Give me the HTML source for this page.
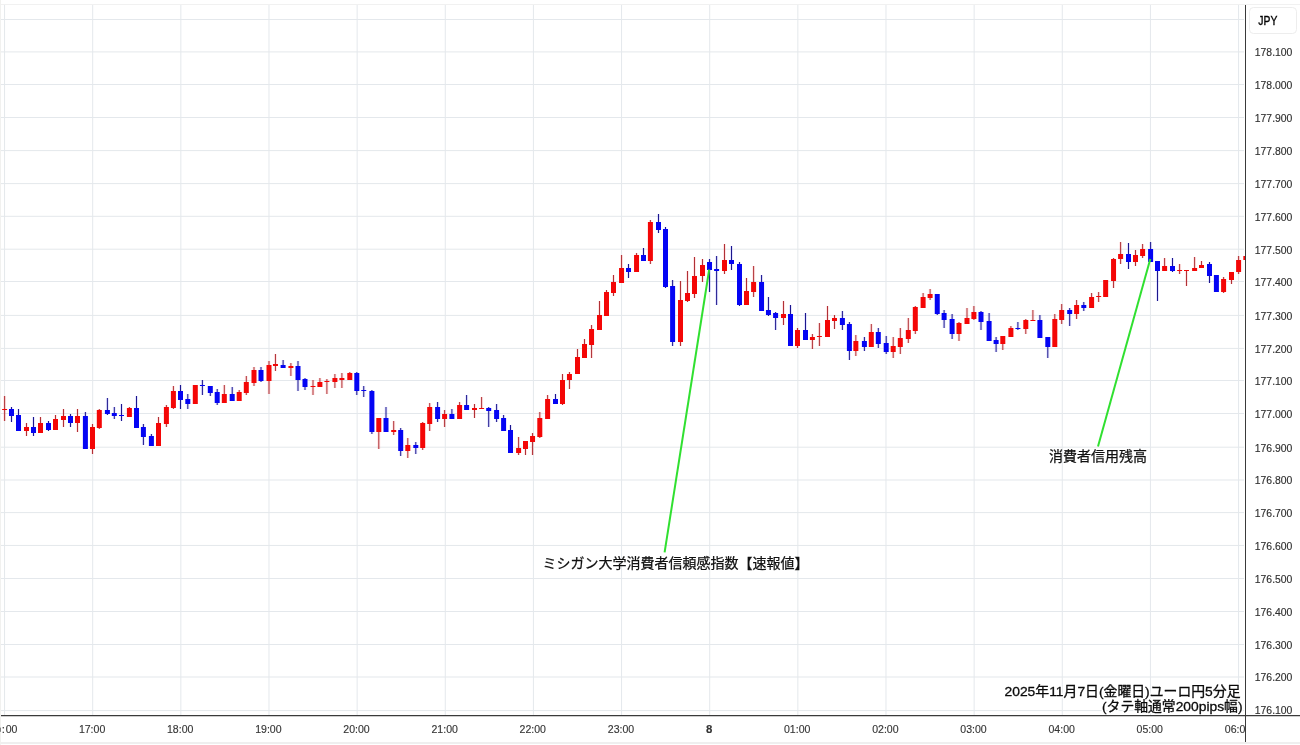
<!DOCTYPE html>
<html><head><meta charset="utf-8"><title>chart</title>
<style>
html,body{margin:0;padding:0;background:#fff;}
body{width:1300px;height:745px;overflow:hidden;position:relative;font-family:"Liberation Sans",sans-serif;}
svg{position:absolute;left:0;top:0;display:block;will-change:transform}
text{font-family:"Liberation Sans",sans-serif;}
</style></head><body>
<svg width="1300" height="745" viewBox="0 0 1300 745">
<rect x="0" y="0" width="1300" height="745" fill="#ffffff"/>
<rect x="0" y="4" width="1300" height="1" fill="#f1f1f1"/>
<rect x="0" y="742" width="1300" height="2" fill="#efefef"/>
<rect x="0" y="0" width="1" height="745" fill="#f1f1ef"/>
<g fill="#e4e8ec"><rect x="1" y="19.00" width="1243" height="1"/><rect x="1" y="51.40" width="1243" height="1"/><rect x="1" y="84.00" width="1243" height="1"/><rect x="1" y="117.00" width="1243" height="1"/><rect x="1" y="150.10" width="1243" height="1"/><rect x="1" y="183.10" width="1243" height="1"/><rect x="1" y="215.80" width="1243" height="1"/><rect x="1" y="248.70" width="1243" height="1"/><rect x="1" y="281.00" width="1243" height="1"/><rect x="1" y="314.90" width="1243" height="1"/><rect x="1" y="347.90" width="1243" height="1"/><rect x="1" y="380.00" width="1243" height="1"/><rect x="1" y="413.00" width="1243" height="1"/><rect x="1" y="446.70" width="1243" height="1"/><rect x="1" y="479.50" width="1243" height="1"/><rect x="1" y="512.10" width="1243" height="1"/><rect x="1" y="544.95" width="1243" height="1"/><rect x="1" y="578.00" width="1243" height="1"/><rect x="1" y="611.00" width="1243" height="1"/><rect x="1" y="644.00" width="1243" height="1"/><rect x="1" y="676.50" width="1243" height="1"/><rect x="1" y="710.10" width="1243" height="1"/><rect x="4.05" y="5" width="1" height="710"/><rect x="92.19" y="5" width="1" height="710"/><rect x="180.34" y="5" width="1" height="710"/><rect x="268.48" y="5" width="1" height="710"/><rect x="356.63" y="5" width="1" height="710"/><rect x="444.77" y="5" width="1" height="710"/><rect x="532.91" y="5" width="1" height="710"/><rect x="621.06" y="5" width="1" height="710"/><rect x="709.20" y="5" width="1" height="710"/><rect x="797.35" y="5" width="1" height="710"/><rect x="885.49" y="5" width="1" height="710"/><rect x="973.63" y="5" width="1" height="710"/><rect x="1061.78" y="5" width="1" height="710"/><rect x="1149.92" y="5" width="1" height="710"/><rect x="1238.07" y="5" width="1" height="710"/></g>
<clipPath id="cc"><rect x="0" y="5" width="1245" height="710"/></clipPath>
<g clip-path="url(#cc)">
<g fill="#ff0000" fill-opacity="0.10"><rect x="3.1" y="396" width="3" height="25"/><rect x="25" y="423" width="3" height="13"/><rect x="39" y="417" width="3" height="16"/><rect x="54" y="415" width="3" height="15"/><rect x="62" y="409" width="3" height="18"/><rect x="76" y="409" width="3" height="23"/><rect x="91" y="424" width="3" height="30"/><rect x="97.8" y="409" width="3" height="20"/><rect x="127.9" y="407" width="3" height="10"/><rect x="157" y="417" width="3" height="29"/><rect x="164.9" y="405" width="3" height="22"/><rect x="171.9" y="386" width="3" height="23"/><rect x="193.8" y="385" width="3" height="19"/><rect x="222.8" y="385" width="3" height="18"/><rect x="237.7" y="390" width="3" height="11"/><rect x="244.8" y="376" width="3" height="19"/><rect x="252.5" y="367" width="3" height="19"/><rect x="267.5" y="361" width="3" height="33"/><rect x="273.95" y="354" width="3" height="17"/><rect x="289.4" y="363" width="3" height="13"/><rect x="311.5" y="380" width="3" height="15"/><rect x="318.4" y="378" width="3" height="9"/><rect x="325.4" y="379" width="3" height="15"/><rect x="333.4" y="374" width="3" height="14"/><rect x="340.4" y="373" width="3" height="15"/><rect x="348.3" y="372" width="3" height="8"/><rect x="377.3" y="418" width="3" height="31"/><rect x="392.2" y="421" width="3" height="14"/><rect x="406.3" y="438" width="3" height="20"/><rect x="421.2" y="422" width="3" height="28"/><rect x="428.2" y="403" width="3" height="28"/><rect x="443.1" y="410" width="3" height="17"/><rect x="458.1" y="402" width="3" height="17"/><rect x="473" y="404" width="3" height="14"/><rect x="480.1" y="397" width="3" height="12"/><rect x="517.1" y="437" width="3" height="18"/><rect x="524" y="441" width="3" height="14"/><rect x="531.05" y="433" width="3" height="22"/><rect x="538.3" y="412" width="3" height="26"/><rect x="546.1" y="395" width="3" height="24"/><rect x="561" y="374" width="3" height="31"/><rect x="567.95" y="372" width="3" height="17"/><rect x="576" y="349" width="3" height="25"/><rect x="583" y="339" width="3" height="19"/><rect x="590.05" y="325" width="3" height="33"/><rect x="598" y="301" width="3" height="29"/><rect x="605" y="290" width="3" height="26"/><rect x="612" y="275" width="3" height="21"/><rect x="620.05" y="255" width="3" height="28"/><rect x="635.05" y="253" width="3" height="19"/><rect x="648.9" y="220" width="3" height="44"/><rect x="679" y="281" width="3" height="65"/><rect x="686" y="271" width="3" height="31"/><rect x="693" y="257" width="3" height="41"/><rect x="701" y="259" width="3" height="23"/><rect x="723" y="244" width="3" height="30"/><rect x="745" y="278" width="3" height="27"/><rect x="752.1" y="266" width="3" height="31"/><rect x="782" y="301" width="3" height="24"/><rect x="796" y="328" width="3" height="20"/><rect x="810.9" y="334" width="3" height="15"/><rect x="817.9" y="323" width="3" height="23"/><rect x="826" y="306" width="3" height="31"/><rect x="833" y="315" width="3" height="14"/><rect x="854.35" y="335" width="3" height="21"/><rect x="869.8" y="324" width="3" height="23"/><rect x="891.7" y="337" width="3" height="21"/><rect x="898.8" y="328" width="3" height="26"/><rect x="906.8" y="318" width="3" height="25"/><rect x="913.8" y="306" width="3" height="28"/><rect x="921.6" y="293" width="3" height="15"/><rect x="928.6" y="289" width="3" height="11"/><rect x="957.5" y="322" width="3" height="19"/><rect x="965.5" y="308" width="3" height="16"/><rect x="972.4" y="306" width="3" height="14"/><rect x="1001.3" y="336" width="3" height="14"/><rect x="1009.4" y="326" width="3" height="11"/><rect x="1024.3" y="319" width="3" height="15"/><rect x="1031.4" y="310" width="3" height="11"/><rect x="1053.3" y="314" width="3" height="33"/><rect x="1060.2" y="304" width="3" height="20"/><rect x="1075.1" y="300" width="3" height="19"/><rect x="1090.1" y="293" width="3" height="15"/><rect x="1097.15" y="292" width="3" height="10"/><rect x="1104.15" y="280" width="3" height="17"/><rect x="1112.05" y="258" width="3" height="30"/><rect x="1119.1" y="242" width="3" height="22"/><rect x="1134" y="250" width="3" height="16"/><rect x="1141.1" y="244" width="3" height="14"/><rect x="1163.1" y="258" width="3" height="13"/><rect x="1178.1" y="264" width="3" height="10"/><rect x="1185" y="270" width="3" height="16"/><rect x="1193.1" y="257" width="3" height="14"/><rect x="1200" y="261" width="3" height="7"/><rect x="1222.1" y="277" width="3" height="16"/><rect x="1230" y="272" width="3" height="12"/><rect x="1237.1" y="256" width="3" height="18"/><rect x="1244.33" y="256" width="3" height="4"/></g>
<g fill="#0000ff" fill-opacity="0.10"><rect x="10" y="407" width="3" height="15"/><rect x="17" y="409" width="3" height="22"/><rect x="32" y="417" width="3" height="19"/><rect x="47" y="421" width="3" height="10"/><rect x="69" y="414" width="3" height="13"/><rect x="83.9" y="412" width="3" height="37"/><rect x="105.9" y="398" width="3" height="17"/><rect x="112.8" y="407" width="3" height="12"/><rect x="120" y="404" width="3" height="17"/><rect x="135" y="396" width="3" height="32"/><rect x="141.9" y="424" width="3" height="21"/><rect x="149.9" y="434" width="3" height="12"/><rect x="179" y="385" width="3" height="24"/><rect x="186.3" y="394" width="3" height="15"/><rect x="200.9" y="380" width="3" height="15"/><rect x="208.8" y="386" width="3" height="10"/><rect x="215.7" y="389" width="3" height="16"/><rect x="230.7" y="387" width="3" height="14"/><rect x="259.5" y="367" width="3" height="15"/><rect x="281.6" y="360" width="3" height="8"/><rect x="296.5" y="361" width="3" height="30"/><rect x="303.5" y="378" width="3" height="12"/><rect x="355.3" y="372" width="3" height="23"/><rect x="362.25" y="386" width="3" height="11"/><rect x="370.4" y="390" width="3" height="44"/><rect x="384.5" y="407" width="3" height="25"/><rect x="399.2" y="428" width="3" height="28"/><rect x="414.3" y="442" width="3" height="12"/><rect x="436.1" y="402" width="3" height="20"/><rect x="450.4" y="409" width="3" height="10"/><rect x="465.1" y="395" width="3" height="15"/><rect x="487.2" y="407" width="3" height="20"/><rect x="495.1" y="404" width="3" height="18"/><rect x="502.1" y="415" width="3" height="16"/><rect x="509" y="425" width="3" height="28"/><rect x="554" y="394" width="3" height="10"/><rect x="627" y="264" width="3" height="14"/><rect x="642" y="248" width="3" height="13"/><rect x="657" y="214" width="3" height="19"/><rect x="664" y="227" width="3" height="61"/><rect x="671.1" y="280" width="3" height="66"/><rect x="708.03" y="259" width="3" height="33"/><rect x="715.1" y="256" width="3" height="49"/><rect x="730" y="246" width="3" height="24"/><rect x="738" y="262" width="3" height="44"/><rect x="760.05" y="275" width="3" height="36"/><rect x="766.95" y="297" width="3" height="19"/><rect x="774.1" y="312" width="3" height="18"/><rect x="789" y="305" width="3" height="41"/><rect x="804" y="313" width="3" height="27"/><rect x="840.9" y="311" width="3" height="19"/><rect x="847.9" y="322" width="3" height="38"/><rect x="862.9" y="337" width="3" height="14"/><rect x="876.8" y="328" width="3" height="20"/><rect x="884.7" y="336" width="3" height="18"/><rect x="935.75" y="294" width="3" height="21"/><rect x="942.6" y="310" width="3" height="18"/><rect x="950.6" y="314" width="3" height="25"/><rect x="979.5" y="311" width="3" height="19"/><rect x="987.6" y="313" width="3" height="28"/><rect x="994.6" y="337" width="3" height="15"/><rect x="1016.4" y="322" width="3" height="8"/><rect x="1038.4" y="315" width="3" height="23"/><rect x="1046.3" y="337" width="3" height="21"/><rect x="1068.2" y="308" width="3" height="18"/><rect x="1082.3" y="302" width="3" height="9"/><rect x="1127" y="243" width="3" height="26"/><rect x="1149.1" y="242" width="3" height="20"/><rect x="1156" y="261" width="3" height="40"/><rect x="1171" y="258" width="3" height="14"/><rect x="1208" y="262" width="3" height="21"/><rect x="1214.9" y="275" width="3" height="17"/></g>
<g fill="#b03036"><rect x="4.1" y="396" width="1" height="25"/><rect x="26" y="423" width="1" height="13"/><rect x="40" y="417" width="1" height="16"/><rect x="55" y="415" width="1" height="15"/><rect x="63" y="409" width="1" height="18"/><rect x="77" y="409" width="1" height="23"/><rect x="92" y="424" width="1" height="30"/><rect x="98.8" y="409" width="1" height="20"/><rect x="128.9" y="407" width="1" height="10"/><rect x="158" y="417" width="1" height="29"/><rect x="165.9" y="405" width="1" height="22"/><rect x="172.9" y="386" width="1" height="23"/><rect x="194.8" y="385" width="1" height="19"/><rect x="223.8" y="385" width="1" height="18"/><rect x="238.7" y="390" width="1" height="11"/><rect x="245.8" y="376" width="1" height="19"/><rect x="253.5" y="367" width="1" height="19"/><rect x="268.5" y="361" width="1" height="33"/><rect x="274.95" y="354" width="1" height="17"/><rect x="290.4" y="363" width="1" height="13"/><rect x="312.5" y="380" width="1" height="15"/><rect x="319.4" y="378" width="1" height="9"/><rect x="326.4" y="379" width="1" height="15"/><rect x="334.4" y="374" width="1" height="14"/><rect x="341.4" y="373" width="1" height="15"/><rect x="349.3" y="372" width="1" height="8"/><rect x="378.3" y="418" width="1" height="31"/><rect x="393.2" y="421" width="1" height="14"/><rect x="407.3" y="438" width="1" height="20"/><rect x="422.2" y="422" width="1" height="28"/><rect x="429.2" y="403" width="1" height="28"/><rect x="444.1" y="410" width="1" height="17"/><rect x="459.1" y="402" width="1" height="17"/><rect x="474" y="404" width="1" height="14"/><rect x="481.1" y="397" width="1" height="12"/><rect x="518.1" y="437" width="1" height="18"/><rect x="525" y="441" width="1" height="14"/><rect x="532.05" y="433" width="1" height="22"/><rect x="539.3" y="412" width="1" height="26"/><rect x="547.1" y="395" width="1" height="24"/><rect x="562" y="374" width="1" height="31"/><rect x="568.95" y="372" width="1" height="17"/><rect x="577" y="349" width="1" height="25"/><rect x="584" y="339" width="1" height="19"/><rect x="591.05" y="325" width="1" height="33"/><rect x="599" y="301" width="1" height="29"/><rect x="606" y="290" width="1" height="26"/><rect x="613" y="275" width="1" height="21"/><rect x="621.05" y="255" width="1" height="28"/><rect x="636.05" y="253" width="1" height="19"/><rect x="649.9" y="220" width="1" height="44"/><rect x="680" y="281" width="1" height="65"/><rect x="687" y="271" width="1" height="31"/><rect x="694" y="257" width="1" height="41"/><rect x="702" y="259" width="1" height="23"/><rect x="724" y="244" width="1" height="30"/><rect x="746" y="278" width="1" height="27"/><rect x="753.1" y="266" width="1" height="31"/><rect x="783" y="301" width="1" height="24"/><rect x="797" y="328" width="1" height="20"/><rect x="811.9" y="334" width="1" height="15"/><rect x="818.9" y="323" width="1" height="23"/><rect x="827" y="306" width="1" height="31"/><rect x="834" y="315" width="1" height="14"/><rect x="855.35" y="335" width="1" height="21"/><rect x="870.8" y="324" width="1" height="23"/><rect x="892.7" y="337" width="1" height="21"/><rect x="899.8" y="328" width="1" height="26"/><rect x="907.8" y="318" width="1" height="25"/><rect x="914.8" y="306" width="1" height="28"/><rect x="922.6" y="293" width="1" height="15"/><rect x="929.6" y="289" width="1" height="11"/><rect x="958.5" y="322" width="1" height="19"/><rect x="966.5" y="308" width="1" height="16"/><rect x="973.4" y="306" width="1" height="14"/><rect x="1002.3" y="336" width="1" height="14"/><rect x="1010.4" y="326" width="1" height="11"/><rect x="1025.3" y="319" width="1" height="15"/><rect x="1032.4" y="310" width="1" height="11"/><rect x="1054.3" y="314" width="1" height="33"/><rect x="1061.2" y="304" width="1" height="20"/><rect x="1076.1" y="300" width="1" height="19"/><rect x="1091.1" y="293" width="1" height="15"/><rect x="1098.15" y="292" width="1" height="10"/><rect x="1105.15" y="280" width="1" height="17"/><rect x="1113.05" y="258" width="1" height="30"/><rect x="1120.1" y="242" width="1" height="22"/><rect x="1135" y="250" width="1" height="16"/><rect x="1142.1" y="244" width="1" height="14"/><rect x="1164.1" y="258" width="1" height="13"/><rect x="1179.1" y="264" width="1" height="10"/><rect x="1186" y="270" width="1" height="16"/><rect x="1194.1" y="257" width="1" height="14"/><rect x="1201" y="261" width="1" height="7"/><rect x="1223.1" y="277" width="1" height="16"/><rect x="1231" y="272" width="1" height="12"/><rect x="1238.1" y="256" width="1" height="18"/><rect x="1245.33" y="256" width="1" height="4"/></g>
<g fill="#1c168c"><rect x="11" y="407" width="1" height="15"/><rect x="18" y="409" width="1" height="22"/><rect x="33" y="417" width="1" height="19"/><rect x="48" y="421" width="1" height="10"/><rect x="70" y="414" width="1" height="13"/><rect x="84.9" y="412" width="1" height="37"/><rect x="106.9" y="398" width="1" height="17"/><rect x="113.8" y="407" width="1" height="12"/><rect x="121" y="404" width="1" height="17"/><rect x="136" y="396" width="1" height="32"/><rect x="142.9" y="424" width="1" height="21"/><rect x="150.9" y="434" width="1" height="12"/><rect x="180" y="385" width="1" height="24"/><rect x="187.3" y="394" width="1" height="15"/><rect x="201.9" y="380" width="1" height="15"/><rect x="209.8" y="386" width="1" height="10"/><rect x="216.7" y="389" width="1" height="16"/><rect x="231.7" y="387" width="1" height="14"/><rect x="260.5" y="367" width="1" height="15"/><rect x="282.6" y="360" width="1" height="8"/><rect x="297.5" y="361" width="1" height="30"/><rect x="304.5" y="378" width="1" height="12"/><rect x="356.3" y="372" width="1" height="23"/><rect x="363.25" y="386" width="1" height="11"/><rect x="371.4" y="390" width="1" height="44"/><rect x="385.5" y="407" width="1" height="25"/><rect x="400.2" y="428" width="1" height="28"/><rect x="415.3" y="442" width="1" height="12"/><rect x="437.1" y="402" width="1" height="20"/><rect x="451.4" y="409" width="1" height="10"/><rect x="466.1" y="395" width="1" height="15"/><rect x="488.2" y="407" width="1" height="20"/><rect x="496.1" y="404" width="1" height="18"/><rect x="503.1" y="415" width="1" height="16"/><rect x="510" y="425" width="1" height="28"/><rect x="555" y="394" width="1" height="10"/><rect x="628" y="264" width="1" height="14"/><rect x="643" y="248" width="1" height="13"/><rect x="658" y="214" width="1" height="19"/><rect x="665" y="227" width="1" height="61"/><rect x="672.1" y="280" width="1" height="66"/><rect x="709.03" y="259" width="1" height="33"/><rect x="716.1" y="256" width="1" height="49"/><rect x="731" y="246" width="1" height="24"/><rect x="739" y="262" width="1" height="44"/><rect x="761.05" y="275" width="1" height="36"/><rect x="767.95" y="297" width="1" height="19"/><rect x="775.1" y="312" width="1" height="18"/><rect x="790" y="305" width="1" height="41"/><rect x="805" y="313" width="1" height="27"/><rect x="841.9" y="311" width="1" height="19"/><rect x="848.9" y="322" width="1" height="38"/><rect x="863.9" y="337" width="1" height="14"/><rect x="877.8" y="328" width="1" height="20"/><rect x="885.7" y="336" width="1" height="18"/><rect x="936.75" y="294" width="1" height="21"/><rect x="943.6" y="310" width="1" height="18"/><rect x="951.6" y="314" width="1" height="25"/><rect x="980.5" y="311" width="1" height="19"/><rect x="988.6" y="313" width="1" height="28"/><rect x="995.6" y="337" width="1" height="15"/><rect x="1017.4" y="322" width="1" height="8"/><rect x="1039.4" y="315" width="1" height="23"/><rect x="1047.3" y="337" width="1" height="21"/><rect x="1069.2" y="308" width="1" height="18"/><rect x="1083.3" y="302" width="1" height="9"/><rect x="1128" y="243" width="1" height="26"/><rect x="1150.1" y="242" width="1" height="20"/><rect x="1157" y="261" width="1" height="40"/><rect x="1172" y="258" width="1" height="14"/><rect x="1209" y="262" width="1" height="21"/><rect x="1215.9" y="275" width="1" height="17"/></g>
<g fill="#f40606"><rect x="2.1" y="409" width="5" height="1"/><rect x="24" y="427" width="5" height="4"/><rect x="38" y="423" width="5" height="10"/><rect x="53" y="419" width="5" height="11"/><rect x="61" y="416" width="5" height="4"/><rect x="75" y="416" width="5" height="7"/><rect x="90" y="427" width="5" height="22"/><rect x="96.8" y="410" width="5" height="18"/><rect x="126.9" y="408" width="5" height="9"/><rect x="156" y="423" width="5" height="23"/><rect x="163.9" y="407" width="5" height="17"/><rect x="170.9" y="391" width="5" height="17"/><rect x="192.8" y="385" width="5" height="19"/><rect x="221.8" y="394" width="5" height="9"/><rect x="236.7" y="392" width="5" height="9"/><rect x="243.8" y="382" width="5" height="11"/><rect x="251.5" y="370" width="5" height="13"/><rect x="266.5" y="365" width="5" height="16"/><rect x="272.95" y="364" width="5" height="2"/><rect x="288.4" y="366" width="5" height="2"/><rect x="310.5" y="386" width="5" height="1"/><rect x="317.4" y="382" width="5" height="5"/><rect x="324.4" y="381" width="5" height="1"/><rect x="332.4" y="378" width="5" height="4"/><rect x="339.4" y="378" width="5" height="2"/><rect x="347.3" y="373" width="5" height="7"/><rect x="376.3" y="418" width="5" height="14"/><rect x="391.2" y="430" width="5" height="2"/><rect x="405.3" y="445" width="5" height="6"/><rect x="420.2" y="423" width="5" height="25"/><rect x="427.2" y="407" width="5" height="17"/><rect x="442.1" y="414" width="5" height="5"/><rect x="457.1" y="405" width="5" height="14"/><rect x="472" y="408" width="5" height="2"/><rect x="479.1" y="408" width="5" height="1"/><rect x="516.1" y="448" width="5" height="5"/><rect x="523" y="441" width="5" height="8"/><rect x="530.05" y="436" width="5" height="6"/><rect x="537.3" y="418" width="5" height="19"/><rect x="545.1" y="399" width="5" height="20"/><rect x="560" y="380" width="5" height="24"/><rect x="566.95" y="374" width="5" height="6"/><rect x="575" y="357" width="5" height="17"/><rect x="582" y="344" width="5" height="14"/><rect x="589.05" y="329" width="5" height="16"/><rect x="597" y="315" width="5" height="15"/><rect x="604" y="292" width="5" height="24"/><rect x="611" y="282" width="5" height="11"/><rect x="619.05" y="268" width="5" height="15"/><rect x="634.05" y="255" width="5" height="17"/><rect x="647.9" y="222" width="5" height="39"/><rect x="678" y="300" width="5" height="42"/><rect x="685" y="293" width="5" height="8"/><rect x="692" y="276" width="5" height="18"/><rect x="700" y="265" width="5" height="11"/><rect x="722" y="260" width="5" height="11"/><rect x="744" y="291" width="5" height="14"/><rect x="751.1" y="282" width="5" height="10"/><rect x="781" y="314" width="5" height="4"/><rect x="795" y="330" width="5" height="16"/><rect x="809.9" y="337" width="5" height="3"/><rect x="816.9" y="336" width="5" height="1"/><rect x="825" y="320" width="5" height="17"/><rect x="832" y="318" width="5" height="3"/><rect x="853.35" y="341" width="5" height="10"/><rect x="868.8" y="332" width="5" height="15"/><rect x="890.7" y="346" width="5" height="6"/><rect x="897.8" y="338" width="5" height="9"/><rect x="905.8" y="330" width="5" height="9"/><rect x="912.8" y="307" width="5" height="24"/><rect x="920.6" y="297" width="5" height="11"/><rect x="927.6" y="294" width="5" height="4"/><rect x="956.5" y="323" width="5" height="11"/><rect x="964.5" y="318" width="5" height="6"/><rect x="971.4" y="312" width="5" height="7"/><rect x="1000.3" y="336" width="5" height="8"/><rect x="1008.4" y="328" width="5" height="9"/><rect x="1023.3" y="320" width="5" height="9"/><rect x="1030.4" y="320" width="5" height="1"/><rect x="1052.3" y="319" width="5" height="28"/><rect x="1059.2" y="310" width="5" height="10"/><rect x="1074.1" y="305" width="5" height="9"/><rect x="1089.1" y="297" width="5" height="11"/><rect x="1096.15" y="296" width="5" height="1"/><rect x="1103.15" y="280" width="5" height="17"/><rect x="1111.05" y="259" width="5" height="22"/><rect x="1118.1" y="254" width="5" height="5"/><rect x="1133" y="255" width="5" height="7"/><rect x="1140.1" y="249" width="5" height="7"/><rect x="1162.1" y="266" width="5" height="5"/><rect x="1177.1" y="270" width="5" height="1"/><rect x="1184" y="270" width="5" height="1"/><rect x="1192.1" y="268" width="5" height="3"/><rect x="1199" y="265" width="5" height="3"/><rect x="1221.1" y="279" width="5" height="13"/><rect x="1229" y="272" width="5" height="8"/><rect x="1236.1" y="260" width="5" height="12"/><rect x="1243.33" y="256" width="5" height="4"/></g>
<g fill="#0404f4"><rect x="9" y="409" width="5" height="7"/><rect x="16" y="415" width="5" height="16"/><rect x="31" y="427" width="5" height="6"/><rect x="46" y="423" width="5" height="7"/><rect x="68" y="416" width="5" height="7"/><rect x="82.9" y="416" width="5" height="33"/><rect x="104.9" y="410" width="5" height="4"/><rect x="111.8" y="413" width="5" height="3"/><rect x="119" y="415" width="5" height="1"/><rect x="134" y="408" width="5" height="20"/><rect x="140.9" y="427" width="5" height="10"/><rect x="148.9" y="436" width="5" height="10"/><rect x="178" y="391" width="5" height="9"/><rect x="185.3" y="399" width="5" height="5"/><rect x="199.9" y="385" width="5" height="1"/><rect x="207.8" y="386" width="5" height="7"/><rect x="214.7" y="392" width="5" height="11"/><rect x="229.7" y="394" width="5" height="7"/><rect x="258.5" y="370" width="5" height="11"/><rect x="280.6" y="365" width="5" height="3"/><rect x="295.5" y="366" width="5" height="14"/><rect x="302.5" y="379" width="5" height="8"/><rect x="354.3" y="373" width="5" height="18"/><rect x="361.25" y="390" width="5" height="1"/><rect x="369.4" y="391" width="5" height="41"/><rect x="383.5" y="418" width="5" height="14"/><rect x="398.2" y="430" width="5" height="21"/><rect x="413.3" y="445" width="5" height="3"/><rect x="435.1" y="407" width="5" height="12"/><rect x="449.4" y="414" width="5" height="5"/><rect x="464.1" y="405" width="5" height="5"/><rect x="486.2" y="408" width="5" height="3"/><rect x="494.1" y="410" width="5" height="9"/><rect x="501.1" y="418" width="5" height="13"/><rect x="508" y="430" width="5" height="23"/><rect x="553" y="399" width="5" height="5"/><rect x="626" y="268" width="5" height="4"/><rect x="641" y="255" width="5" height="6"/><rect x="656" y="222" width="5" height="8"/><rect x="663" y="229" width="5" height="58"/><rect x="670.1" y="286" width="5" height="56"/><rect x="707.03" y="262" width="5" height="8"/><rect x="714.1" y="269" width="5" height="2"/><rect x="729" y="260" width="5" height="4"/><rect x="737" y="264" width="5" height="41"/><rect x="759.05" y="282" width="5" height="29"/><rect x="765.95" y="310" width="5" height="5"/><rect x="773.1" y="313" width="5" height="5"/><rect x="788" y="314" width="5" height="32"/><rect x="803" y="330" width="5" height="10"/><rect x="839.9" y="318" width="5" height="7"/><rect x="846.9" y="324" width="5" height="27"/><rect x="861.9" y="341" width="5" height="6"/><rect x="875.8" y="332" width="5" height="12"/><rect x="883.7" y="343" width="5" height="9"/><rect x="934.75" y="294" width="5" height="20"/><rect x="941.6" y="313" width="5" height="7"/><rect x="949.6" y="319" width="5" height="15"/><rect x="978.5" y="312" width="5" height="10"/><rect x="986.6" y="321" width="5" height="20"/><rect x="993.6" y="340" width="5" height="4"/><rect x="1015.4" y="328" width="5" height="1"/><rect x="1037.4" y="320" width="5" height="18"/><rect x="1045.3" y="337" width="5" height="10"/><rect x="1067.2" y="310" width="5" height="4"/><rect x="1081.3" y="305" width="5" height="3"/><rect x="1126" y="254" width="5" height="8"/><rect x="1148.1" y="249" width="5" height="13"/><rect x="1155" y="261" width="5" height="10"/><rect x="1170" y="266" width="5" height="5"/><rect x="1207" y="264" width="5" height="12"/><rect x="1213.9" y="275" width="5" height="17"/></g>
</g>

<g stroke="#30e030" stroke-width="2" stroke-linecap="butt" fill="none"><line x1="664.6" y1="552.3" x2="709.2" y2="269.5"/><line x1="1098.0" y1="446.6" x2="1150.3" y2="259.0"/></g>
<g fill="#111" stroke="#111" stroke-width="0.25" font-size="14" style="font-family:'Liberation Sans','Noto Sans CJK JP',sans-serif"><text x="542.5" y="568" textLength="266" lengthAdjust="spacingAndGlyphs" style="font-family:'Liberation Sans','Noto Sans CJK JP',sans-serif">ミシガン大学消費者信頼感指数【速報値】</text><text x="1049" y="461.2" textLength="98" lengthAdjust="spacingAndGlyphs" style="font-family:'Liberation Sans','Noto Sans CJK JP',sans-serif">消費者信用残高</text></g>
<g fill="#0a0a0a" stroke="#fff" stroke-width="3" stroke-linejoin="round" font-size="13.3"><text x="1004.5" y="695.7" textLength="236" lengthAdjust="spacingAndGlyphs" style="font-family:'Liberation Sans','Noto Sans CJK JP',sans-serif">2025年11月7日(金曜日)ユーロ円5分足</text><text x="1102" y="710.5" textLength="140.5" lengthAdjust="spacingAndGlyphs" style="font-family:'Liberation Sans','Noto Sans CJK JP',sans-serif">(タテ軸通常200pips幅)</text></g>
<g fill="#0a0a0a" stroke="#0a0a0a" stroke-width="0.3" stroke-linejoin="round" font-size="13.3"><text x="1004.5" y="695.7" textLength="236" lengthAdjust="spacingAndGlyphs" style="font-family:'Liberation Sans','Noto Sans CJK JP',sans-serif">2025年11月7日(金曜日)ユーロ円5分足</text><text x="1102" y="710.5" textLength="140.5" lengthAdjust="spacingAndGlyphs" style="font-family:'Liberation Sans','Noto Sans CJK JP',sans-serif">(タテ軸通常200pips幅)</text></g>

<rect x="1245" y="5" width="1" height="737" fill="#3a3a3a"/>
<rect x="1" y="715" width="1299" height="1.25" fill="#3a3a3a"/><rect x="0" y="727.6" width="0.8" height="4.2" fill="#666"/>
<g font-size="11.7" fill="#2e2e2e" stroke="#2e2e2e" stroke-width="0.15"><text x="1254.8" y="56.2" textLength="37.6" lengthAdjust="spacingAndGlyphs">178.100</text><text x="1254.8" y="88.8" textLength="37.6" lengthAdjust="spacingAndGlyphs">178.000</text><text x="1254.8" y="121.8" textLength="37.6" lengthAdjust="spacingAndGlyphs">177.900</text><text x="1254.8" y="154.9" textLength="37.6" lengthAdjust="spacingAndGlyphs">177.800</text><text x="1254.8" y="187.9" textLength="37.6" lengthAdjust="spacingAndGlyphs">177.700</text><text x="1254.8" y="220.6" textLength="37.6" lengthAdjust="spacingAndGlyphs">177.600</text><text x="1254.8" y="253.5" textLength="37.6" lengthAdjust="spacingAndGlyphs">177.500</text><text x="1254.8" y="285.8" textLength="37.6" lengthAdjust="spacingAndGlyphs">177.400</text><text x="1254.8" y="319.7" textLength="37.6" lengthAdjust="spacingAndGlyphs">177.300</text><text x="1254.8" y="352.7" textLength="37.6" lengthAdjust="spacingAndGlyphs">177.200</text><text x="1254.8" y="384.8" textLength="37.6" lengthAdjust="spacingAndGlyphs">177.100</text><text x="1254.8" y="417.8" textLength="37.6" lengthAdjust="spacingAndGlyphs">177.000</text><text x="1254.8" y="451.5" textLength="37.6" lengthAdjust="spacingAndGlyphs">176.900</text><text x="1254.8" y="484.3" textLength="37.6" lengthAdjust="spacingAndGlyphs">176.800</text><text x="1254.8" y="516.9" textLength="37.6" lengthAdjust="spacingAndGlyphs">176.700</text><text x="1254.8" y="549.8" textLength="37.6" lengthAdjust="spacingAndGlyphs">176.600</text><text x="1254.8" y="582.8" textLength="37.6" lengthAdjust="spacingAndGlyphs">176.500</text><text x="1254.8" y="615.8" textLength="37.6" lengthAdjust="spacingAndGlyphs">176.400</text><text x="1254.8" y="648.8" textLength="37.6" lengthAdjust="spacingAndGlyphs">176.300</text><text x="1254.8" y="681.3" textLength="37.6" lengthAdjust="spacingAndGlyphs">176.200</text><text x="1254.8" y="714.2" textLength="37.6" lengthAdjust="spacingAndGlyphs">176.100</text></g>
<clipPath id="tc"><rect x="0" y="716" width="1245" height="29"/></clipPath>
<g font-size="11.4" fill="#363636" stroke="#363636" stroke-width="0.15" clip-path="url(#tc)"><text x="1.85" y="733">:</text><text x="5.65" y="733" textLength="11.7" lengthAdjust="spacingAndGlyphs">00</text><text x="78.9" y="733" textLength="26.4" lengthAdjust="spacingAndGlyphs">17:00</text><text x="167.0" y="733" textLength="26.4" lengthAdjust="spacingAndGlyphs">18:00</text><text x="255.2" y="733" textLength="26.4" lengthAdjust="spacingAndGlyphs">19:00</text><text x="343.3" y="733" textLength="26.4" lengthAdjust="spacingAndGlyphs">20:00</text><text x="431.5" y="733" textLength="26.4" lengthAdjust="spacingAndGlyphs">21:00</text><text x="519.6" y="733" textLength="26.4" lengthAdjust="spacingAndGlyphs">22:00</text><text x="607.8" y="733" textLength="26.4" lengthAdjust="spacingAndGlyphs">23:00</text><text x="709.1" y="733" text-anchor="middle" font-weight="bold">8</text><text x="784.0" y="733" textLength="26.4" lengthAdjust="spacingAndGlyphs">01:00</text><text x="872.2" y="733" textLength="26.4" lengthAdjust="spacingAndGlyphs">02:00</text><text x="960.3" y="733" textLength="26.4" lengthAdjust="spacingAndGlyphs">03:00</text><text x="1048.5" y="733" textLength="26.4" lengthAdjust="spacingAndGlyphs">04:00</text><text x="1136.6" y="733" textLength="26.4" lengthAdjust="spacingAndGlyphs">05:00</text><text x="1224.8" y="733" textLength="26.4" lengthAdjust="spacingAndGlyphs">06:00</text></g>
<rect x="1249.5" y="7.5" width="47" height="26" rx="4" ry="4" fill="#fff" stroke="#ededed" stroke-width="1"/>
<text x="1258.3" y="25" font-size="12.4" fill="#000" stroke="#000" stroke-width="0.35" textLength="19" lengthAdjust="spacingAndGlyphs">JPY</text>
</svg>
</body></html>
